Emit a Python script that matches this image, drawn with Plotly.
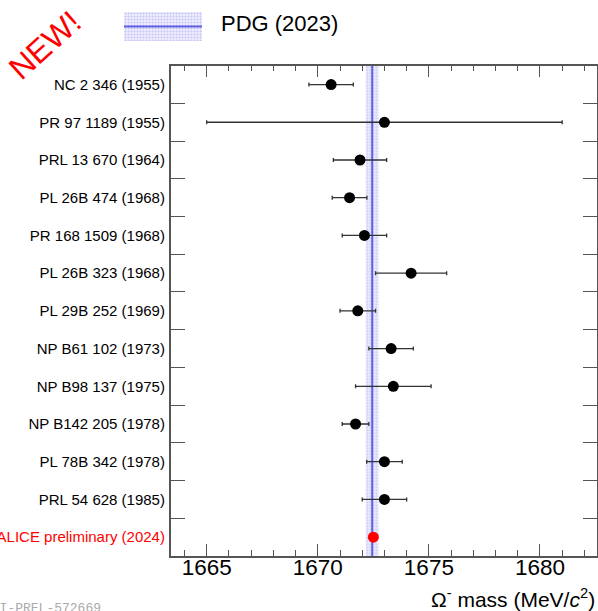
import plotly.graph_objects as go

# ---------------- data ----------------
labels = [
    "NC 2 346 (1955)",
    "PR 97 1189 (1955)",
    "PRL 13 670 (1964)",
    "PL 26B 474 (1968)",
    "PR 168 1509 (1968)",
    "PL 26B 323 (1968)",
    "PL 29B 252 (1969)",
    "NP B61 102 (1973)",
    "NP B98 137 (1975)",
    "NP B142 205 (1978)",
    "PL 78B 342 (1978)",
    "PRL 54 628 (1985)",
]
masses = [1670.6, 1673.0, 1671.9, 1671.43, 1672.1, 1674.2, 1671.8, 1673.3, 1673.4, 1671.7, 1673.0, 1673.0]
errors = [1.0, 8.0, 1.2, 0.78, 1.0, 1.6, 0.8, 1.0, 1.7, 0.6, 0.8, 1.0]

alice_label = "ALICE preliminary (2024)"
alice_mass = [1672.5]
alice_err = [0.0]

pdg_mass = 1672.45
pdg_err = 0.29

x_range = [1663.38, 1682.58]
x_major = [1665, 1670, 1675, 1680]

# ---------------- layout geometry (px, figure coordinates) ----------------
WIDTH, HEIGHT = 598, 611
PLOT_L, PLOT_R, PLOT_T, PLOT_B = 170.7, 597.3, 65.7, 556.0


def fx(xpix):
    return xpix / WIDTH


def fy(ypix):
    return 1 - ypix / HEIGHT


FONT = "Liberation Sans, Arial, Helvetica, sans-serif"
alice_cat = '<span style="color:red">' + alice_label + "</span>"
categories = labels + [alice_cat]

band_pattern = dict(shape=".", fgcolor="rgb(150,150,240)", bgcolor="rgb(238,238,253)",
                    size=3, solidity=0.35)

fig = go.Figure()

# PDG band and central line (numeric helper axis y, range 0..1)
lo, hi = pdg_mass - pdg_err, pdg_mass + pdg_err
fig.add_trace(go.Scatter(
    x=[lo, hi, hi, lo, lo], y=[0, 0, 1, 1, 0], mode="lines",
    line=dict(width=0, color="rgba(0,0,0,0)"), fill="toself",
    fillcolor="rgb(238,238,253)", fillpattern=band_pattern,
    xaxis="x", yaxis="y", hoverinfo="skip", showlegend=False))
fig.add_trace(go.Scatter(
    x=[pdg_mass, pdg_mass], y=[0, 1], mode="lines",
    line=dict(color="rgb(95,95,225)", width=2),
    xaxis="x", yaxis="y", hoverinfo="skip", showlegend=False))

# measurements (category axis y2)
fig.add_trace(go.Scatter(
    x=masses, y=labels, mode="markers",
    marker=dict(color="black", size=11),
    error_x=dict(type="data", array=errors, color="#333333", thickness=1.3, width=2),
    xaxis="x", yaxis="y2", showlegend=False))
fig.add_trace(go.Scatter(
    x=alice_mass, y=[alice_cat], mode="markers",
    marker=dict(color="red", size=11),
    error_x=dict(type="data", array=alice_err, color="red", thickness=1.3, width=0),
    xaxis="x", yaxis="y2", showlegend=False))

# legend box (own small axes)
fig.add_trace(go.Scatter(
    x=[0, 1, 1, 0, 0], y=[0, 0, 1, 1, 0], mode="lines",
    line=dict(width=0, color="rgba(0,0,0,0)"), fill="toself",
    fillcolor="rgb(238,238,253)", fillpattern=band_pattern,
    xaxis="x3", yaxis="y3", hoverinfo="skip", showlegend=False))
fig.add_trace(go.Scatter(
    x=[0, 1], y=[0.5, 0.5], mode="lines",
    line=dict(color="rgb(95,95,225)", width=2),
    xaxis="x3", yaxis="y3", hoverinfo="skip", showlegend=False))

axis_col = "#555555"

fig.update_layout(
    width=WIDTH, height=HEIGHT,
    margin=dict(l=0, r=0, t=0, b=0, pad=0),
    paper_bgcolor="white", plot_bgcolor="white",
    font=dict(family=FONT, color="black"),
    xaxis=dict(
        domain=[fx(PLOT_L), fx(PLOT_R)],
        range=x_range, tickvals=x_major, ticks="inside", ticklen=12, tickwidth=1.3,
        tickcolor=axis_col, showline=True, linecolor=axis_col, linewidth=1.5,
        mirror="ticks", showgrid=False, zeroline=False, automargin=False,
        tickfont=dict(size=22.5, family=FONT, color="black"),
        ticklabelstandoff=-10,
        minor=dict(dtick=1, tick0=1665, ticks="inside", ticklen=6, tickwidth=1.3,
                   tickcolor=axis_col, showgrid=False),
        anchor="y2",
    ),
    yaxis=dict(domain=[fy(PLOT_B), fy(PLOT_T)], range=[0, 1], visible=False,
               fixedrange=True, automargin=False),
    yaxis2=dict(
        type="category", categoryorder="array", categoryarray=categories,
        range=[len(categories) - 0.5, -0.5], overlaying="y", side="left", anchor="x",
        tickson="boundaries", ticks="inside", ticklen=15, tickwidth=1.3,
        tickcolor=axis_col, showline=True, linecolor=axis_col, linewidth=1.5,
        mirror="ticks", showgrid=False, zeroline=False, automargin=False,
        tickfont=dict(size=15, family=FONT, color="black"),
        ticklabelstandoff=1,
    ),
    xaxis3=dict(domain=[fx(124), fx(202)], range=[0, 1], visible=False,
                anchor="y3", fixedrange=True, automargin=False),
    yaxis3=dict(domain=[fy(41), fy(12)], range=[0, 1],
                visible=False, anchor="x3", fixedrange=True, automargin=False),
)

# annotations
fig.add_annotation(
    xref="paper", yref="paper", x=fx(219), y=fy(23), xanchor="left", yanchor="middle",
    text="PDG (2023)", showarrow=False, font=dict(size=22, family=FONT, color="black"))
fig.add_annotation(
    xref="paper", yref="paper", x=fx(597), y=fy(598), xanchor="right", yanchor="middle",
    text="Ω<sup>-</sup> mass (MeV/<i>c</i><sup>2</sup>)", showarrow=False,
    font=dict(size=21, family=FONT, color="black"))
fig.add_annotation(
    xref="paper", yref="paper", x=fx(45), y=fy(45), xanchor="center", yanchor="middle",
    text="NEW!", textangle=-42, showarrow=False,
    font=dict(size=32, family=FONT, color="red"))
fig.add_annotation(
    xref="paper", yref="paper", x=fx(103), y=fy(608), xanchor="right", yanchor="middle",
    text="ALI-PREL-572669", showarrow=False,
    font=dict(size=13, family="Liberation Mono, Courier New, monospace", color="#aaaaaa"))

fig.write_html("out.html")
